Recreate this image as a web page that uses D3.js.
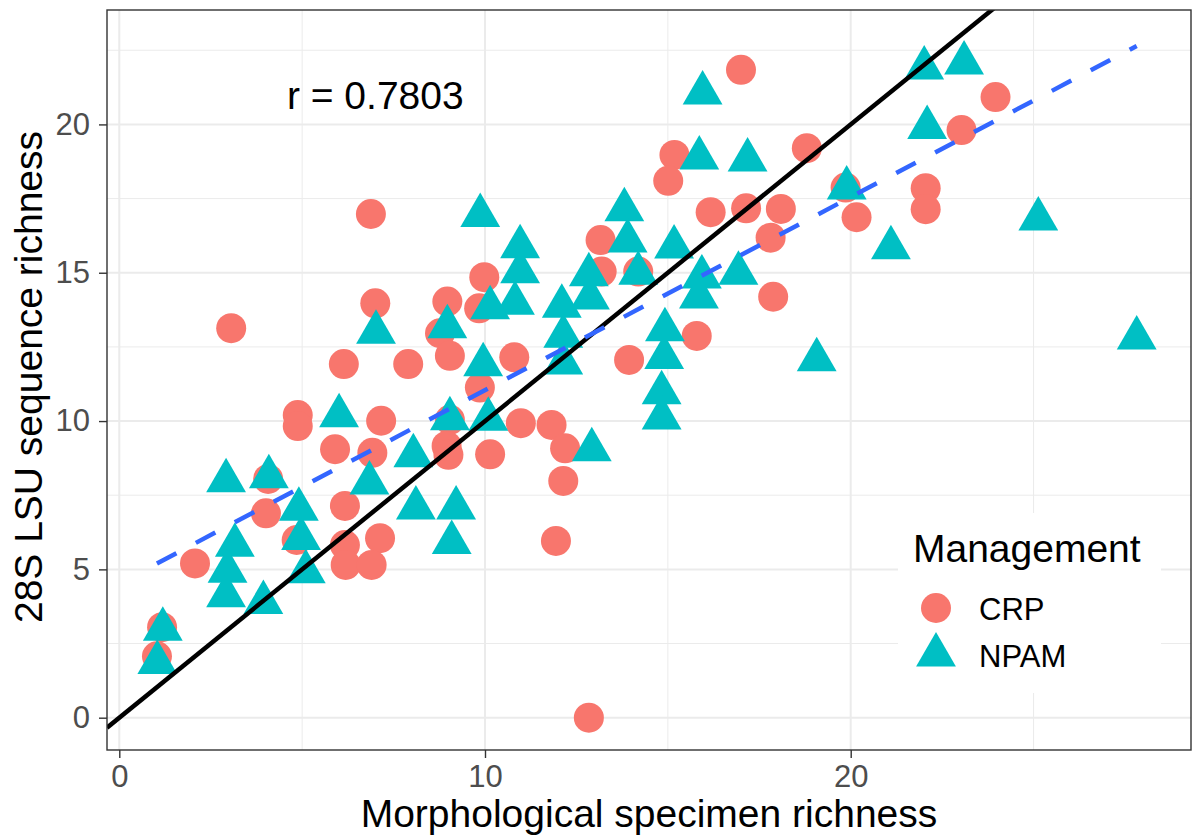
<!DOCTYPE html>
<html>
<head>
<meta charset="utf-8">
<script src="https://cdn.jsdelivr.net/npm/d3@7"></script>
<style>
  body { margin: 0; background: #fff; }
  text { font-family: "Liberation Sans", Arial, sans-serif; }
</style>
</head>
<body>
<div id="chart"></div>
<script>
// CRP sites (circles)
const crpX = [1.17, 1.03, 2.07, 3.06, 4.07, 4.01, 4.88, 4.88, 4.85, 5.9, 6.14, 6.17, 6.17, 6.19, 7.13, 6.9,
  7.0, 7.16, 6.92, 6.88, 7.9, 8.97, 8.77, 9.04, 9.04, 8.95, 9.0, 9.84, 9.98, 9.86, 10.14, 10.8, 10.98,
  11.82, 12.19, 12.14, 11.94, 12.84, 13.94, 15.79, 17.88, 17.0, 15.18, 15.01, 18.8, 19.86, 20.16, 16.17,
  17.14, 18.09, 17.81, 13.16, 13.19, 14.19, 23.96, 23.03, 22.05, 22.05];
const crpY = [3.05, 2.07, 5.2, 13.13, 8.05, 6.89, 10.2, 9.83, 5.99, 9.05, 11.92, 7.14, 5.82, 5.15, 6.05, 5.15,
  13.97, 10.01, 8.93, 16.98, 11.92, 14.03, 12.96, 12.2, 10.04, 9.16, 8.86, 13.8, 14.85, 11.13, 8.88, 12.15, 9.93,
  9.87, 9.08, 7.98, 5.96, 0, 12.06, 12.87, 14.19, 21.84, 18.97, 18.1, 19.2, 17.87, 16.87, 17.04,
  17.17, 17.15, 16.18, 16.1, 15.04, 15.04, 20.92, 19.81, 17.85, 17.14];

// NPAM sites (triangles)
const npamX = [1.19, 1.04, 3.16, 2.96, 2.92, 3.94, 4.97, 5.1, 9.09, 2.92, 4.09, 4.91, 6.01, 6.84, 7.02, 8.11,
  8.04, 9.21, 8.97, 9.04, 9.95, 10.09, 10.96, 10.82, 10.14, 12.1, 12.14, 12.14, 12.87, 12.84, 12.92, 14.19,
  14.92, 14.9, 14.83, 14.83, 15.85, 15.93, 16.93, 19.07, 15.95, 15.86, 17.18, 13.81, 13.9, 15.17, 10.96,
  9.87, 19.89, 21.1, 22.01, 23.1, 22.09, 25.13, 27.82];
const npamY = [2.98, 1.86, 5.81, 4.94, 4.11, 3.88, 6.04, 4.92, 5.91, 7.99, 8.12, 7.03, 10.18, 7.91, 12.99, 7.07,
  8.83, 7.07, 13.18, 10.08, 11.9, 10.06, 15.03, 13.97, 13.82, 13.87, 12.86, 11.96, 14.15, 14.93, 9.03, 14.98,
  13.08, 12.14, 10.95, 10.1, 14.18, 14.86, 14.98, 12.07, 21.06, 18.87, 18.8, 17.12, 16.07, 15.87, 15.88,
  16.93, 17.86, 15.84, 21.9, 22.07, 19.9, 16.81, 12.8];

// Linear fit
const fitIntercept = 4.53;
const fitSlope = 0.651;

const xTicks = [0, 10, 20];
const xMinor = [5, 15, 25];
const yTicks = [0, 5, 10, 15, 20];
const yMinor = [2.5, 7.5, 12.5, 17.5, 22.5];

const groups = ["CRP", "NPAM"];
const groupColors = ["#F8766D", "#00BFC4"];

// Chart size
const W = 1199, H = 836;
const margin = { top: 10, right: 8, bottom: 86, left: 107 };
const width = W - margin.left - margin.right;
const height = H - margin.top - margin.bottom;

const svg = d3.select("#chart")
  .append("svg")
  .attr("width", W)
  .attr("height", H);

const g = svg.append("g")
  .attr("transform", `translate(${margin.left},${margin.top})`);

const x = d3.scaleLinear().domain([-0.336, 29.305]).range([0, width]);
const y = d3.scaleLinear().domain([-1.089, 23.857]).range([height, 0]);

// Grid
g.selectAll("line.minor-x").data(xMinor).join("line")
  .attr("class", "minor-x")
  .attr("x1", d => x(d)).attr("x2", d => x(d))
  .attr("y1", 0).attr("y2", height)
  .attr("stroke", "#EBEBEB").attr("stroke-width", 1);
g.selectAll("line.minor-y").data(yMinor).join("line")
  .attr("class", "minor-y")
  .attr("y1", d => y(d)).attr("y2", d => y(d))
  .attr("x1", 0).attr("x2", width)
  .attr("stroke", "#EBEBEB").attr("stroke-width", 1);
g.selectAll("line.major-x").data(xTicks).join("line")
  .attr("class", "major-x")
  .attr("x1", d => x(d)).attr("x2", d => x(d))
  .attr("y1", 0).attr("y2", height)
  .attr("stroke", "#EBEBEB").attr("stroke-width", 2);
g.selectAll("line.major-y").data(yTicks).join("line")
  .attr("class", "major-y")
  .attr("y1", d => y(d)).attr("y2", d => y(d))
  .attr("x1", 0).attr("x2", width)
  .attr("stroke", "#EBEBEB").attr("stroke-width", 2);

// Points
const crp = crpX.map((v, i) => ({ x: v, y: crpY[i] }));
const npam = npamX.map((v, i) => ({ x: v, y: npamY[i] }));

g.selectAll("circle.crp").data(crp).join("circle")
  .attr("class", "crp")
  .attr("cx", d => x(d.x))
  .attr("cy", d => y(d.y))
  .attr("r", 15)
  .attr("fill", groupColors[0]);

const triR = 23;
const triPath = `M0,${-triR}L${triR * 0.866},${triR / 2}L${-triR * 0.866},${triR / 2}Z`;

g.selectAll("path.npam").data(npam).join("path")
  .attr("class", "npam")
  .attr("d", triPath)
  .attr("transform", d => `translate(${x(d.x)},${y(d.y)})`)
  .attr("fill", groupColors[1]);

// Lines clipped to panel
svg.append("defs").append("clipPath").attr("id", "panel-clip")
  .append("rect").attr("width", width).attr("height", height);

const lineGen = d3.line().x(d => x(d[0])).y(d => y(d[1]));

const lines = g.append("g").attr("clip-path", "url(#panel-clip)");

// 1:1 line
const xd = x.domain();
lines.append("path")
  .attr("d", lineGen([[xd[0], xd[0]], [xd[1], xd[1]]]))
  .attr("stroke", "#000")
  .attr("stroke-width", 4.5)
  .attr("fill", "none");

// Fitted line across data range
const allX = crpX.concat(npamX);
const [xmin, xmax] = d3.extent(allX);
lines.append("path")
  .attr("d", lineGen([[xmin, fitIntercept + fitSlope * xmin], [xmax, fitIntercept + fitSlope * xmax]]))
  .attr("stroke", "#3366FF")
  .attr("stroke-width", 4.5)
  .attr("stroke-dasharray", "22,22")
  .attr("fill", "none");

// Correlation label
g.append("text")
  .attr("x", x(7))
  .attr("y", y(21))
  .attr("dy", "0.36em")
  .attr("text-anchor", "middle")
  .attr("font-size", 39)
  .attr("fill", "#000")
  .text("r = 0.7803");

// Legend
const legend = svg.append("g");
legend.append("rect")
  .attr("x", 898).attr("y", 513)
  .attr("width", 263).attr("height", 180)
  .attr("fill", "#fff");
legend.append("text")
  .attr("x", 913).attr("y", 562)
  .attr("font-size", 39)
  .text("Management");
legend.append("circle")
  .attr("cx", 936).attr("cy", 608)
  .attr("r", 15)
  .attr("fill", groupColors[0]);
legend.append("path")
  .attr("d", triPath)
  .attr("transform", "translate(936,655)")
  .attr("fill", groupColors[1]);
legend.selectAll("text.key").data(groups).join("text")
  .attr("class", "key")
  .attr("x", 979)
  .attr("y", (d, i) => 620 + i * 46.5)
  .attr("font-size", 31)
  .text(d => d);

// Panel border
g.append("rect")
  .attr("width", width).attr("height", height)
  .attr("fill", "none")
  .attr("stroke", "#333333")
  .attr("stroke-width", 1.4);

// Axes
const xAxis = g.append("g")
  .attr("transform", `translate(0,${height})`)
  .call(d3.axisBottom(x).tickValues(xTicks).tickSize(8).tickPadding(7));
const yAxis = g.append("g")
  .call(d3.axisLeft(y).tickValues(yTicks).tickSize(8).tickPadding(9));

[xAxis, yAxis].forEach(a => {
  a.select(".domain").remove();
  a.selectAll(".tick line").attr("stroke", "#333333").attr("stroke-width", 1.4);
  a.selectAll(".tick text")
    .attr("fill", "#4D4D4D")
    .attr("font-size", 31)
    .attr("font-family", "Liberation Sans, Arial, sans-serif");
});

// Axis titles
svg.append("text")
  .attr("x", margin.left + width / 2)
  .attr("y", 827)
  .attr("text-anchor", "middle")
  .attr("font-size", 39)
  .text("Morphological specimen richness");

svg.append("text")
  .attr("transform", `translate(42,${margin.top + height / 2 - 3}) rotate(-90)`)
  .attr("text-anchor", "middle")
  .attr("font-size", 39)
  .text("28S LSU sequence richness");
</script>
</body>
</html>
